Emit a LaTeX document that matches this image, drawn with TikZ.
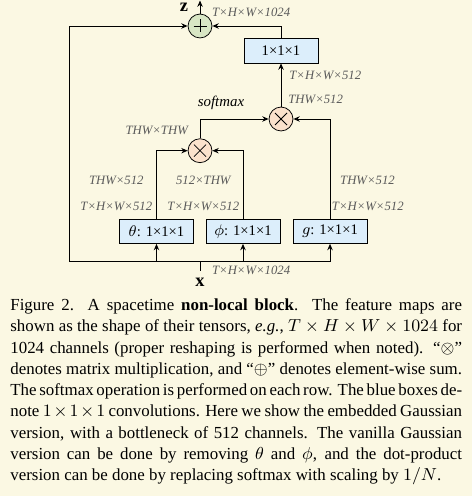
\documentclass[tikz,border=0pt]{standalone}
\usepackage{fontspec}
\setmainfont{Liberation Serif}
\usetikzlibrary{arrows.meta}
\definecolor{bgcream}{HTML}{FBF8E3}
\definecolor{convblue}{HTML}{DCEEFB}
\definecolor{sumgreen}{HTML}{D8E6C4}
\definecolor{mulpeach}{HTML}{FBE2CC}
\definecolor{dimgray}{HTML}{5A5A5A}
\begin{document}
\begin{tikzpicture}[x=0.5185pt,y=-0.5185pt,
  conv/.style={draw,fill=convblue,minimum width=38.4pt,minimum height=12.6pt,
               inner sep=0pt,font=\fontsize{7.6}{9}\selectfont},
  op/.style={draw,circle,minimum size=12.4pt,inner sep=0pt},
  oplus/.style={op,fill=sumgreen,path picture={\draw[shift={(path picture bounding box.center)}]
               (-6.5,0)--(6.5,0) (0,-6.5)--(0,6.5);}},
  otimes/.style={op,fill=mulpeach,path picture={\draw[shift={(path picture bounding box.center)}]
               (-6,-6)--(6,6) (-6,6)--(6,-6);}},
  dim/.style={font=\fontsize{6.6}{8}\selectfont\itshape,text=dimgray,inner sep=0pt},
  var/.style={font=\fontsize{9.5}{10}\selectfont\bfseries,inner sep=0pt},
  a/.style={-{Stealth[length=3.3pt,width=2.8pt]},line width=0.5pt}
]
\fill[bgcream] (0,0) rectangle (472,496);
\useasboundingbox (0,0) rectangle (472,496);
% operators and 1x1x1 convolutions
\node[oplus]  (sum)  at (200,26)    {};
\node[conv]   (proj) at (281,50.8)  {1×1×1};
\node[otimes] (mul2) at (281,119)   {};
\node[otimes] (mul1) at (200,150.7) {};
\node[conv]   (th)   at (156.5,231.3) {$\theta$: 1×1×1};
\node[conv]   (ph)   at (243,231.3)   {$\phi$: 1×1×1};
\node[conv]   (gg)   at (330,231.3)   {$g$: 1×1×1};
\node[var,anchor=base] (zl) at (184,11.5)  {z};
\node[var,anchor=base] (xl) at (200,286.5) {x};
\coordinate (zout) at (200,0.5);
\coordinate (xin)  at (200,270.7);
\coordinate (lc)   at (69.3,261.7);
\coordinate (gbus) at (330,261.7);
% tensor shapes
\node[dim,anchor=west] at (211.7,12.7) {T×H×W×1024};
\node[dim,anchor=west] at (289,75)     {T×H×W×512};
\node[dim,anchor=west] at (288,99)     {THW×512};
\node[font=\fontsize{7.7}{9}\selectfont\itshape,inner sep=0pt] at (221,102.7) {softmax};
\node[dim] at (156.7,130)   {THW×THW};
\node[dim] at (116.3,180.7) {THW×512};
\node[dim] at (203.3,180.7) {512×THW};
\node[dim] at (367.5,180.7) {THW×512};
\node[dim] at (116.3,206)   {T×H×W×512};
\node[dim] at (203.3,206)   {T×H×W×512};
\node[dim] at (367.8,206)   {T×H×W×512};
\node[dim,anchor=west] at (211.7,270) {T×H×W×1024};
% connectors
\draw[line width=0.5pt] (xin) -- (xin |- lc);
\draw[a] (gbus) -- (lc) |- (sum.west);
\draw[a] (gbus) -- (gg.south);
\draw[a] (th |- lc) -- (th.south);
\draw[a] (ph |- lc) -- (ph.south);
\draw[a] (th.north) |- (mul1.west);
\draw[a] (ph.north) |- (mul1.east);
\draw[a] (mul1.north) |- (mul2.west);
\draw[a] (gg.north) |- (mul2.east);
\draw[a] (mul2.north) -- (proj.south);
\draw[a] (proj.north) |- (sum.east);
\draw[a] (sum.north) -- (zout);
% caption
\node[anchor=north west,inner sep=0pt,text width=234.2pt,align=justify,
      font=\fontsize{8.75}{11}\selectfont] (cap) at (10,298.5) {%
\spaceskip=0.25em plus 0.3em minus 0.1em
Figure 2. A spacetime \textbf{non-local block}.  The feature maps are\linebreak
shown as the shape of their tensors, \emph{e.g.}, $T\times H\times W\times 1024$ for\linebreak
1024 channels (proper reshaping is performed when noted). “$\otimes$”\linebreak
denotes matrix multiplication, and “$\oplus$” denotes element-wise sum.\linebreak
The softmax operation is performed on each row. The blue boxes de-\linebreak
note $1\times1\times1$ convolutions. Here we show the embedded Gaussian\linebreak
version, with a bottleneck of 512 channels. The vanilla Gaussian\linebreak
version can be done by removing $\theta$ and $\phi$, and the dot-product\linebreak
version can be done by replacing softmax with scaling by $1/N$.};
\end{tikzpicture}
\end{document}
